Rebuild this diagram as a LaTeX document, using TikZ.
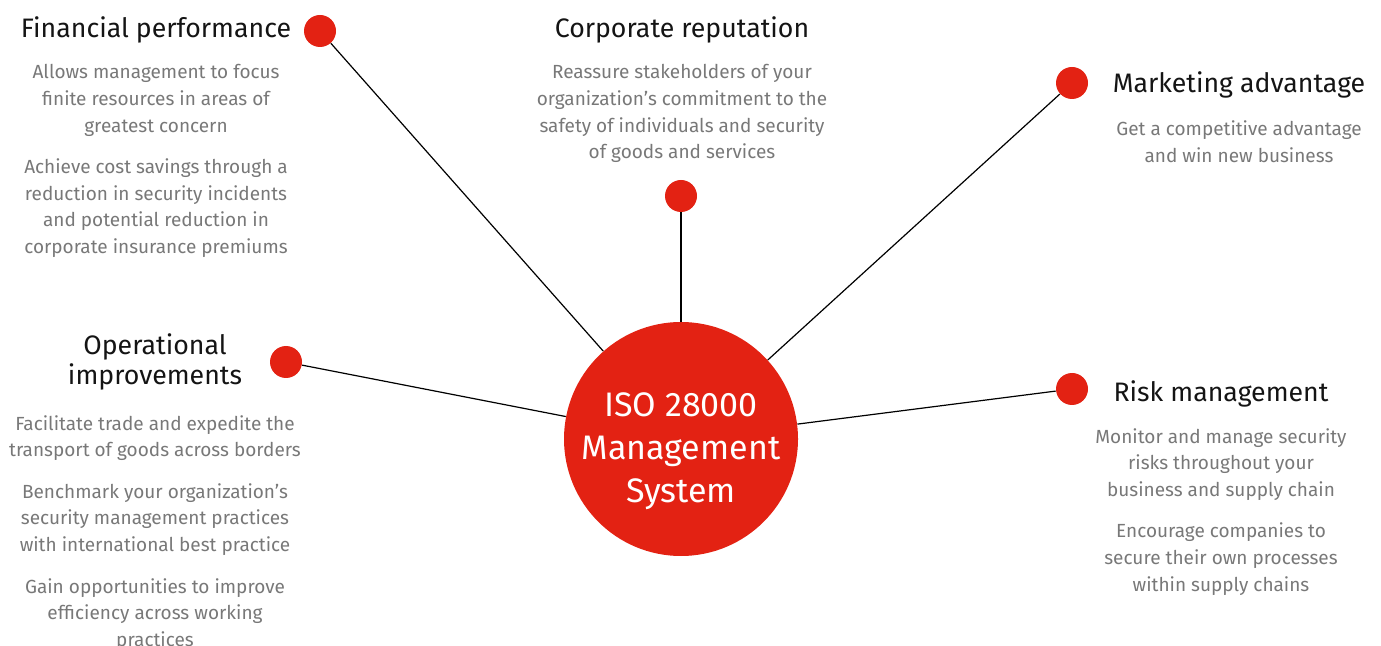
\documentclass[tikz,border=0pt]{standalone}
\usepackage{fontspec}
\setmainfont{Fira Sans}
\usetikzlibrary{positioning}
\definecolor{isored}{HTML}{E32213}
\definecolor{bodygray}{HTML}{787878}

\begin{document}
\begin{tikzpicture}[x=0.5pt, y=-0.5pt,
    head/.style={anchor=base, align=center, inner sep=0pt, text=black!92, font=\fontsize{13.35}{15}\selectfont},
    body/.style={align=center, inner sep=0pt, text=bodygray, font=\fontsize{9.5}{13.3}\selectfont},
    dot/.style={circle, fill=isored, inner sep=0pt, minimum size=16pt},
    hub/.style={circle, fill=isored, inner sep=0pt, minimum size=117pt},
    spoke/.style={line width=0.6pt}]
  \useasboundingbox (0,0) rectangle (1381,646);
  % centre
  \node[hub] (Hub) at (681,439) {};
  \node[below=6pt of Hub.center, anchor=center, align=center, text=white, font=\fontsize{17}{21.5}\selectfont] (HubText) {ISO 28000\\Management\\System};
  % dots and spokes
  \node[dot] (FinDot) at (320,31) {};
  \node[dot] (RepDot) at (681,196) {};
  \node[dot] (MktDot) at (1072,83) {};
  \node[dot] (OpsDot) at (286,362) {};
  \node[dot] (RiskDot) at (1072,389) {};
  \foreach \d in {FinDot,RepDot,MktDot,OpsDot,RiskDot}
    \draw[spoke] (\d) -- (Hub);
  % texts (base of a multi-line node = its last line)
  \node[head] (FinHead) at (156,38) {Financial performance};
  \node[body, below=107.8pt of FinHead.base, anchor=base] (FinBody) {Allows management to focus\\finite resources in areas of\\greatest concern\\[7.5pt]Achieve cost savings through a\\reduction in security incidents\\and potential reduction in\\corporate insurance premiums};
  \node[head] (RepHead) at (682,38) {Corporate reputation};
  \node[body, below=60.4pt of RepHead.base, anchor=base] (RepBody) {Reassure stakeholders of your\\organization’s commitment to the\\safety of individuals and security\\of goods and services};
  \node[head] (MktHead) at (1239,93) {Marketing advantage};
  \node[body, below=34.8pt of MktHead.base, anchor=base] (MktBody) {Get a competitive advantage\\and win new business};
  \node[head] (OpsHead) at (155,385) {Operational\\improvements};
  \node[body, below=130.6pt of OpsHead.base, anchor=base] (OpsBody) {Facilitate trade and expedite the\\transport of goods across borders\\[7.5pt]Benchmark your organization’s\\security management practices\\with international best practice\\[7.5pt]Gain opportunities to improve\\efficiency across working\\practices};
  \node[head] (RiskHead) at (1221,401) {Risk management};
  \node[body, below=95pt of RiskHead.base, anchor=base] (RiskBody) {Monitor and manage security\\risks throughout your\\business and supply chain\\[7.5pt]Encourage companies to\\secure their own processes\\within supply chains};
\end{tikzpicture}
\end{document}
